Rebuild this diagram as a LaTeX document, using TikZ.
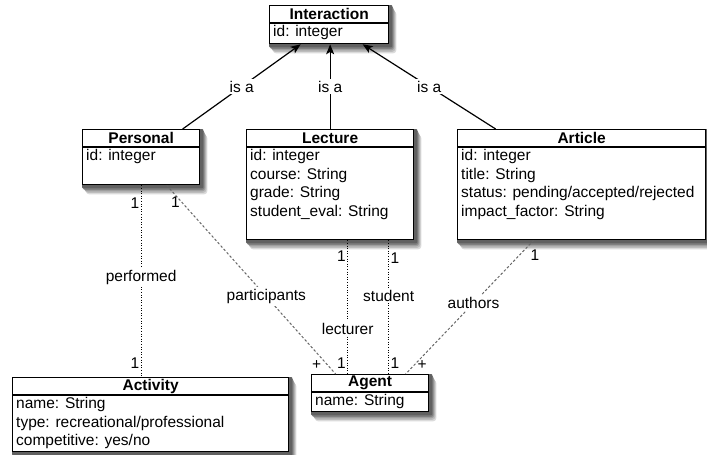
\documentclass[tikz,border=0pt]{standalone}
\usepackage{fontspec}
\setmainfont{Liberation Sans}
\usetikzlibrary{arrows.meta}
\pgfdeclarelayer{background}
\pgfsetlayers{background,main}
\newcommand{\umlclass}[7]{%
  \node[cls, minimum width={#4-#2}, minimum height={#5-#3}, anchor=north west] (#1) at (#2,#3) {};
  \begin{pgfonlayer}{background}
    \fill[black!14, rounded corners=3pt] ([shift={(4,6)}]#1.north west) rectangle ([shift={(7,9)}]#1.south east);
    \fill[black!26, rounded corners=3pt] ([shift={(3,4.5)}]#1.north west) rectangle ([shift={(6,7.5)}]#1.south east);
    \fill[black!38, rounded corners=3pt] ([shift={(2,3)}]#1.north west) rectangle ([shift={(5,6)}]#1.south east);
    \fill[black!50, rounded corners=2pt] ([shift={(1,1.5)}]#1.north west) rectangle ([shift={(4,4.5)}]#1.south east);
    \fill[black!62, rounded corners=1pt] ([shift={(0,0)}]#1.north west) rectangle ([shift={(3,3)}]#1.south east);
  \end{pgfonlayer}
  \draw[clsline] ([yshift=-18pt]#1.north west) -- ([yshift=-18pt]#1.north east);
  \node[ttl] (#1-title) at ([yshift=-9pt]#1.north) {#6};
  \node[body] (#1-body) at ([xshift=4pt,yshift=-20.5pt]#1.north west) {#7};
}
\begin{document}
\begin{tikzpicture}[x=1pt,y=-1pt,
  font=\fontsize{15.5}{18.5}\selectfont,
  cls/.style={draw=black, line width=1.3pt, fill=white, inner sep=0pt},
  clsline/.style={line width=1.3pt, black},
  ttl/.style={font=\fontsize{15.5}{18.5}\selectfont\bfseries, inner sep=0pt},
  body/.style={anchor=north west, align=left, inner sep=0pt},
  isa/.style={line width=1.2pt, black, -{Stealth[length=10pt,width=8pt,inset=2.5pt]}},
  dotline/.style={line width=1pt, black, dash pattern=on 1pt off 1.6pt},
  dashline/.style={line width=1pt, black!60, dash pattern=on 2.5pt off 2pt},
  lbl/.style={fill=white, text=black, inner sep=2pt},
  mult/.style={text=black, inner sep=1.5pt}
]
\useasboundingbox (0,0) rectangle (707,455);

\umlclass{interaction}{269}{5}{388}{43}{Interaction}{id: integer}
\umlclass{personal}{82}{129}{199}{184}{Personal}{id: integer}
\umlclass{lecture}{246}{129}{413}{239}{Lecture}{id: integer\\course: String\\grade: String\\student\_eval: String}
\umlclass{article}{457}{129}{705}{239}{Article}{id: integer\\title: String\\status: pending/accepted/rejected\\impact\_factor: String}
\umlclass{activity}{12}{377}{288}{451}{Activity}{name: String\\type: recreational/professional\\competitive: yes/no}
\umlclass{agent}{311}{374}{428}{411}{Agent}{name: String}

% generalisations
\draw[isa] ([xshift=41.5pt]personal.north) -- node[lbl] (isa1) {is a} ([xshift=-28.5pt]interaction.south);
\draw[isa] (lecture.north) -- node[lbl] (isa2) {is a} (lecture.north |- interaction.south);
\draw[isa] ([xshift=-86pt]article.north) -- node[lbl] (isa3) {is a} ([xshift=33.5pt]interaction.south);

% associations
\draw[dotline] (personal.south) -- node[lbl,pos=0.48] (perf) {performed}
  node[mult,pos=0.093,left] (perf1) {1} node[mult,pos=0.93,left] (perf2) {1}
  (personal.south |- activity.north);
\draw[dashline] ([xshift=25.5pt]personal.south) -- node[lbl,pos=0.59] (part) {participants}
  node[mult,pos=0.09,left] (part1) {1} node[mult,pos=0.95,left,xshift=-4pt] (part2) {+}
  ([xshift=-34.5pt]agent.north);
\draw[dotline] ([xshift=17.5pt]lecture.south) -- node[lbl,pos=0.66] (lect) {lecturer}
  node[mult,pos=0.12,left] (lect1) {1} node[mult,pos=0.92,left] (lect2) {1}
  ([xshift=17.5pt]lecture.south |- agent.north);
\draw[dotline] ([xshift=58.5pt]lecture.south) -- node[lbl,pos=0.415] (stud) {student}
  node[mult,pos=0.13,right] (stud1) {1} node[mult,pos=0.92,right] (stud2) {1}
  ([xshift=58.5pt]lecture.south |- agent.north);
\draw[dashline] ([xshift=-48pt]article.south) -- node[lbl,pos=0.47] (auth) {authors}
  node[mult,pos=0.11,right,xshift=9pt] (auth1) {1} node[mult,pos=0.93,right,xshift=1pt] (auth2) {+}
  ([xshift=35.5pt]agent.north);
\end{tikzpicture}
\end{document}
